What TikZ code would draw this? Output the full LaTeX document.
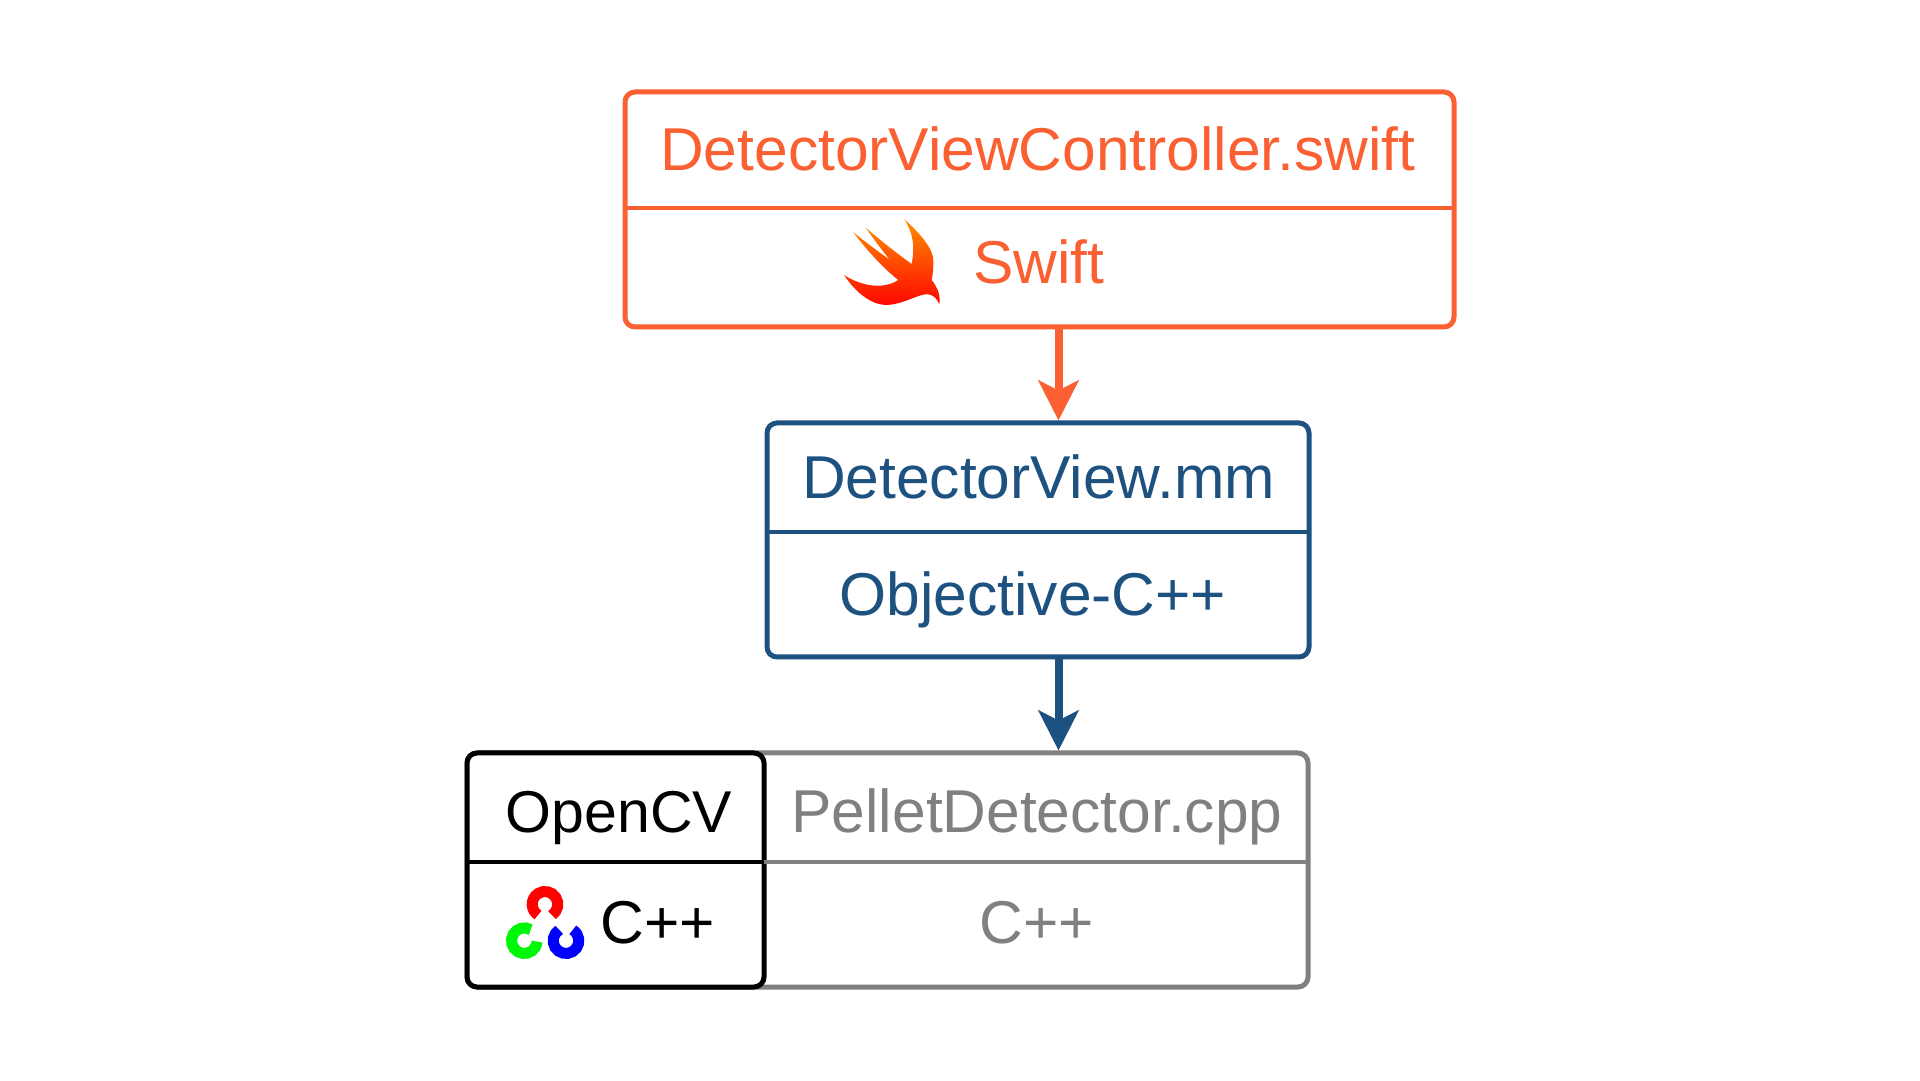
\documentclass[tikz,border=0pt]{standalone}
\usepackage{fontspec}
\setmainfont{Liberation Sans}
\usetikzlibrary{arrows.meta,calc}
\definecolor{cswift}{HTML}{FA6032}
\definecolor{cblue}{HTML}{1D5180}
\definecolor{cgrey}{HTML}{808080}
\tikzset{
  panel/.style={draw=#1,line width=5pt,rounded corners=10pt,fill=white,inner sep=0pt},
  label/.style={text=#1,anchor=base,inner sep=0pt,font=\fontsize{60.5}{63}\selectfont},
  rule/.style={draw=#1,line width=4pt},
  link/.style={draw=#1,line width=8pt,-{Stealth[length=40pt,width=40pt,inset=10pt]}},
  ring/.style={draw=#1,line width=11pt}
}
\begin{document}
\begin{tikzpicture}[x=1pt,y=1pt]
\useasboundingbox[fill=white] (0,0) rectangle (1920,1080);
% boxes
\node[panel=cswift,minimum width=829pt,minimum height=235pt] (swiftbox) at (1039.5,870.5) {};
\node[panel=cblue,minimum width=542pt,minimum height=234pt] (viewbox) at (1038,540) {};
\node[panel=cgrey,minimum width=841pt,minimum height=234pt] (pelletbox) at (887.5,210) {};
\node[panel=black,minimum width=297pt,minimum height=234pt] (cvbox) at (615.5,210) {};
% dividers
\coordinate (d1l) at (625,872); \coordinate (d1r) at (1454,872);
\coordinate (d2l) at (767,548); \coordinate (d2r) at (1309,548);
\coordinate (d3l) at (764,218); \coordinate (d3r) at (1308,218);
\coordinate (d4l) at (467,218); \coordinate (d4r) at (764,218);
\draw[rule=cswift] (d1l) -- (d1r);
\draw[rule=cblue] (d2l) -- (d2r);
\draw[rule=cgrey] (d3l) -- (d3r);
\draw[rule=black,line width=4.5pt] (d4l) -- (d4r);
% texts
\node[label=cswift] (t1) at (1038,909.5) {DetectorViewController.swift};
\node[label=cswift] (t2) at (1039,796) {Swift};
\node[label=cblue] (t3) at (1038.5,581.5) {DetectorView.mm};
\node[label=cblue] (t4) at (1033,464) {Objective-C++};
\node[label=black,font=\fontsize{59}{62}\selectfont] (t5) at (619,248) {OpenCV};
\node[label=cgrey] (t6) at (1037,248) {PelletDetector.cpp};
\node[label=black] (t7) at (658,137) {C++};
\node[label=cgrey] (t8) at (1037,137) {C++};
% connectors
\coordinate (a1s) at ([xshift=19pt]swiftbox.south);
\coordinate (a1e) at ([xshift=20.5pt]viewbox.north);
\coordinate (a2s) at ([xshift=20.5pt]viewbox.south);
\coordinate (a2e) at ([xshift=171pt]pelletbox.north);
\draw[link=cswift] (a1s) -- (a1e);
\draw[link=cblue] (a2s) -- (a2e);
% Swift logo
\begin{scope}[shift={(820,880)},x=0.3333pt,y=-0.3333pt]
\shade[top color=orange!75!yellow!90!red,bottom color=red!95!orange]
  (253,58) .. controls (300,100) and (345,150) .. (340,190)
  .. controls (340,210) and (338,225) .. (335,240)
  .. controls (355,265) and (362,290) .. (358,312)
  .. controls (350,295) and (340,285) .. (325,283)
  .. controls (295,280) and (250,315) .. (195,315)
  .. controls (150,312) and (105,275) .. (72,225)
  .. controls (110,250) and (180,275) .. (235,240)
  .. controls (190,205) and (140,150) .. (100,97)
  .. controls (135,125) and (175,155) .. (210,180)
  .. controls (185,150) and (160,115) .. (137,83)
  .. controls (180,120) and (230,160) .. (275,192)
  .. controls (285,140) and (280,100) .. (253,58) -- cycle;
\end{scope}
% OpenCV logo
\draw[ring={red}] ([shift={(-57:12.8)}]545,175.7) arc[start angle=-57,end angle=237,radius=12.8pt];
\draw[ring={green!85!blue!20!green}] ([shift={(60:12.8)}]524.3,139.3) arc[start angle=60,end angle=356,radius=12.8pt];
\draw[ring={blue}] ([shift={(122:12.8)}]566,139.3) arc[start angle=122,end angle=418,radius=12.8pt];
\end{tikzpicture}
\end{document}
